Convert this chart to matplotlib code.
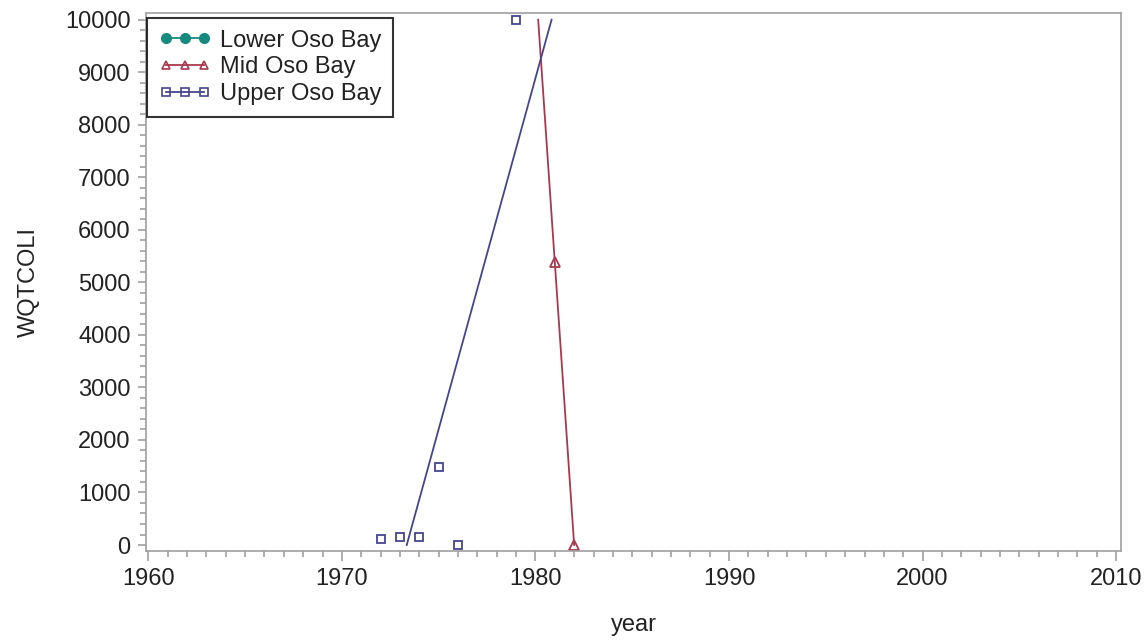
import numpy as np
import matplotlib
matplotlib.use("Agg")
import matplotlib.pyplot as plt
from matplotlib.lines import Line2D
from matplotlib.ticker import MultipleLocator

plt.rcParams['font.family'] = ['Liberation Sans', 'DejaVu Sans']

# ---- data ----
series_names = ["Lower Oso Bay", "Mid Oso Bay", "Upper Oso Bay"]
lower_years = []
lower_vals = []
mid_years = [1981, 1982]
mid_vals = [5380, 0]
upper_years = [1972, 1973, 1974, 1975, 1976, 1979]
upper_vals = [110, 150, 150, 1490, 0, 10000]

x_ticks = [1960, 1970, 1980, 1990, 2000, 2010]
y_ticks = list(range(0, 10001, 1000))

colors = {"Lower Oso Bay": "#178a80", "Mid Oso Bay": "#a8384f", "Upper Oso Bay": "#45458f"}
FS = 17

fig = plt.figure(figsize=(11.48, 6.42), dpi=100)
ax = fig.add_axes([146/1148, 1-551/642, (1121-146)/1148, (551-13)/642])

def fit_line(xs, ys, lo, hi):
    """Least-squares regression line, drawn where it lies within [lo, hi]."""
    xs = np.asarray(xs, float); ys = np.asarray(ys, float)
    b, a = np.polyfit(xs, ys, 1)
    xa, xb = (lo - a) / b, (hi - a) / b
    xx = np.array([min(xa, xb), max(xa, xb)])
    return xx, a + b * xx

# Lower (no data)
ax.plot(lower_years, lower_vals, ls='none', marker='o', color=colors["Lower Oso Bay"])

# Mid
ax.plot(mid_years, mid_vals, ls='none', marker='^', ms=7, mfc='none', mew=1.3,
        color=colors["Mid Oso Bay"])
xx, yy = fit_line(mid_years, mid_vals, 0, 10000)
ax.plot(xx, yy, color=colors["Mid Oso Bay"], lw=1.3)

# Upper
ax.plot(upper_years, upper_vals, ls='none', marker='s', ms=6, mfc='none', mew=1.3,
        color=colors["Upper Oso Bay"])
xx, yy = fit_line(upper_years, upper_vals, 0, 10000)
ax.plot(xx, yy, color=colors["Upper Oso Bay"], lw=1.3)

ax.set_xlim(1959.88, 2010.25)
ax.set_ylim(-114, 10128)
ax.set_xticks(x_ticks)
ax.set_yticks(y_ticks)
ax.xaxis.set_minor_locator(MultipleLocator(1))
ax.yaxis.set_minor_locator(MultipleLocator(200))

gray = '#a0a0a0'
for s in ax.spines.values():
    s.set_color(gray)
    s.set_linewidth(1.2)
ax.tick_params(which='both', color=gray, width=1.2, labelsize=FS, labelcolor='#222222')
ax.tick_params(axis='x', which='major', length=7.5, pad=5)
ax.tick_params(axis='x', which='minor', length=4.5)
ax.tick_params(axis='y', which='major', length=6, pad=5)
ax.tick_params(axis='y', which='minor', length=4)

ax.set_xlabel("year", fontsize=FS, color='#222222')
ax.set_ylabel("WQTCOLI", fontsize=FS, color='#222222')
ax.xaxis.set_label_coords(0.5, -0.118)
ax.yaxis.set_label_coords(-0.109, 0.5)

handles = [
    Line2D([], [], color=colors["Lower Oso Bay"], marker='o', ms=7, lw=1.3),
    Line2D([], [], color=colors["Mid Oso Bay"], marker='^', ms=6, mfc='none', mew=1.2, lw=1.3),
    Line2D([], [], color=colors["Upper Oso Bay"], marker='s', ms=5.5, mfc='none', mew=1.2, lw=1.3),
]
leg = ax.legend(handles, series_names, loc='upper left', bbox_to_anchor=(0.001, 0.991),
                numpoints=3, fontsize=FS, frameon=True, fancybox=False, borderpad=0.5,
                labelspacing=0.2, handlelength=2.2, handletextpad=0.4, borderaxespad=0)
leg.get_frame().set_edgecolor('black')
leg.get_frame().set_linewidth(1.5)
for t in leg.get_texts():
    t.set_color('#222222')

fig.savefig("out.png", dpi=100)
